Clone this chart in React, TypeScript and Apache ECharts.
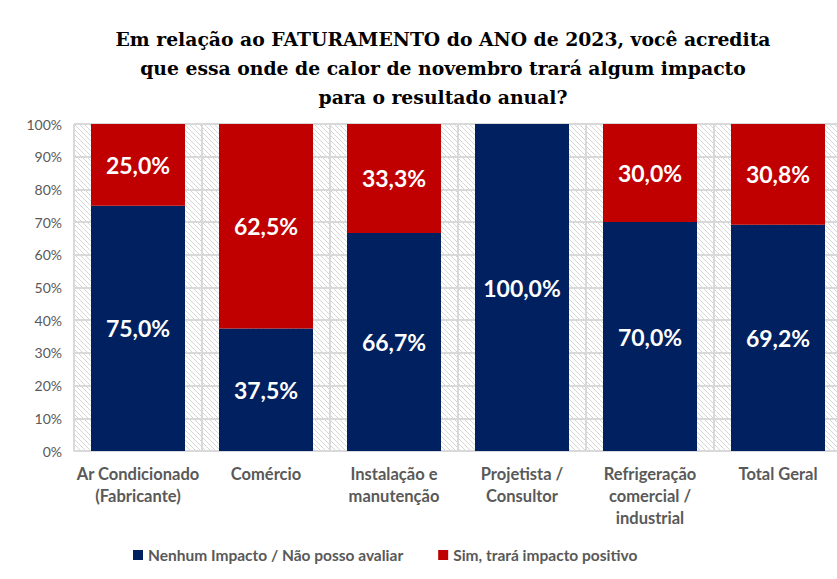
import React, { useEffect, useRef } from "react";
import * as echarts from "echarts";

const categories = [
  "Ar Condicionado\n(Fabricante)",
  "Comércio",
  "Instalação e\nmanutenção",
  "Projetista /\nConsultor",
  "Refrigeração\ncomercial /\nindustrial",
  "Total Geral",
];
const nenhumImpacto = [75.0, 37.5, 66.7, 100.0, 70.0, 69.2];
const simImpacto = [25.0, 62.5, 33.3, 0, 30.0, 30.8];
const seriesNames = ["Nenhum Impacto / Não posso avaliar", "Sim, trará impacto positivo"];
const yTicks = [0, 10, 20, 30, 40, 50, 60, 70, 80, 90, 100];

function makeHatch(): HTMLCanvasElement {
  const c = document.createElement("canvas");
  c.width = 5;
  c.height = 5;
  const ctx = c.getContext("2d")!;
  ctx.fillStyle = "#ffffff";
  ctx.fillRect(0, 0, 5, 5);
  ctx.strokeStyle = "#d6d6d6";
  ctx.lineWidth = 1;
  ctx.beginPath();
  ctx.moveTo(-1, -1);
  ctx.lineTo(6, 6);
  ctx.moveTo(-1, 4);
  ctx.lineTo(1, 6);
  ctx.moveTo(4, -1);
  ctx.lineTo(6, 1);
  ctx.stroke();
  return c;
}

const fmt = (v: number) => (v > 0 ? v.toFixed(1).replace(".", ",") + "%" : "");

export default function App() {
  const ref = useRef<HTMLDivElement>(null);
  useEffect(() => {
    document.body.style.margin = "0";
    const chart = echarts.init(ref.current!, null, { renderer: "svg" });
    const hatch = makeHatch();
    const labelStyle = {
      show: true,
      position: "inside",
      formatter: (p: any) => fmt(p.value),
      fontFamily: "Lato",
      fontWeight: "bold",
      fontSize: 23,
      color: "#ffffff",
    };
    chart.setOption({
      animation: false,
      backgroundColor: "#ffffff",
      title: {
        text: "Em relação ao FATURAMENTO do ANO de 2023, você acredita\nque essa onde de calor de novembro trará algum impacto\npara o resultado anual?",
        left: 438,
        textAlign: "center",
        top: 19,
        textStyle: {
          fontFamily: "DejaVu Serif",
          fontWeight: "bold",
          fontSize: 18.8,
          lineHeight: 29,
          color: "#000000",
        },
      },
      legend: {
        bottom: 11,
        left: 128,
        itemWidth: 10,
        itemHeight: 10,
        itemGap: 35,
        icon: "rect",
        textStyle: { fontFamily: "Lato", fontSize: 15.5, color: "#595959", fontWeight: "bold" },
        data: seriesNames,
      },
      grid: {
        left: 74,
        top: 124,
        width: 768,
        height: 327,
        show: true,
        borderWidth: 0,
        backgroundColor: { image: hatch, repeat: "repeat" },
        containLabel: false,
        outerBoundsMode: "none",
      },
      xAxis: {
        type: "category",
        data: categories,
        axisLine: { lineStyle: { color: "#d9d9d9", width: 1 } },
        axisTick: { show: false },
        splitLine: { show: true, lineStyle: { color: "#d9d9d9", width: 2 } },
        axisLabel: {
          interval: 0,
          margin: 12,
          fontFamily: "Lato",
          fontSize: 16.5,
          fontWeight: "bold",
          color: "#595959",
          lineHeight: 22,
        },
      },
      yAxis: {
        type: "value",
        min: 0,
        max: 100,
        interval: 10,
        axisLine: { show: true, lineStyle: { color: "#d9d9d9", width: 1 } },
        axisTick: { show: false },
        splitLine: { lineStyle: { color: "#d9d9d9", width: 2 } },
        axisLabel: {
          formatter: (v: number) => (yTicks.includes(v) ? v + "%" : ""),
          margin: 12,
          fontFamily: "Lato",
          fontSize: 14,
          color: "#595959",
        },
      },
      series: [
        {
          name: seriesNames[0],
          type: "bar",
          stack: "total",
          data: nenhumImpacto,
          barWidth: 94,
          itemStyle: { color: "#002060" },
          label: labelStyle,
        },
        {
          name: seriesNames[1],
          type: "bar",
          stack: "total",
          data: simImpacto,
          barWidth: 94,
          itemStyle: { color: "#C00000" },
          label: labelStyle,
        },
      ],
    });
    return () => chart.dispose();
  }, []);
  return (
    <div
      ref={ref}
      style={{ position: "absolute", left: 0, top: 0, width: 837, height: 579 }}
    />
  );
}
